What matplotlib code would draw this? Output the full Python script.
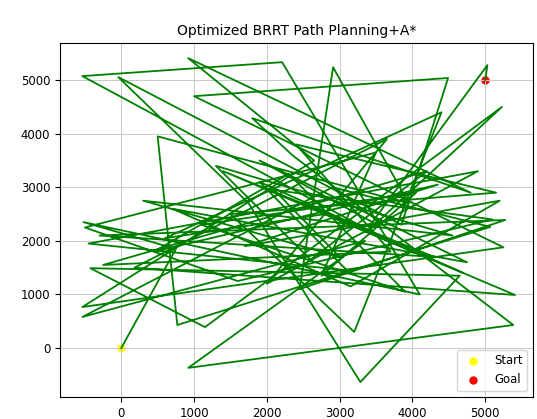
import matplotlib
matplotlib.use("Agg")
import matplotlib.pyplot as plt

# Path waypoints (x, y)
path_x = [0, 750, -520, 4100, 2210, -535, 3400, 5230, 1150, -425, 4650, 3285, 1750, -40,
          3850, 4490, 1000, 5250, -535, 2650, 920, 4800, 1800, 2350, 5385, 920, 3350, -535,
          2900, 5070, 770, 500, 3950, 2910, 2450, 5275, -300, 4300, 1400, 5410, 180, 3650,
          2000, 4900, -450, 3100, 1900, 4700, 2800, 600, 4400, 3200, 1500, 5150, 2400, 3700,
          -250, 4200, 2600, 1300, 4550, 300, 3000, 2100, 5100, 1600, -500, 3500, 2750, 4050,
          1100, 3900, 2300, 450, 4350, 2950, 1700, 5200, 3150, 700, 2500, 4750, 1900, 3450,
          5030, 5000]
path_y = [0, 1850, 2350, 1000, 5335, 5075, 2200, 4500, 390, 1490, 1350, -635, 2700, 5055,
          2300, 5040, 4700, 1880, 765, 3500, 5410, 2900, 4290, 3600, 430, -370, 2000, 580,
          3000, 2260, 430, 3950, 2700, 5240, 1100, 2390, 2100, 1700, 3300, 990, 1500, 3900,
          1200, 3300, 1950, 1450, 3100, 1400, 2500, 2050, 4400, 300, 2500, 2900, 3800, 1800,
          1550, 3300, 1650, 3400, 2100, 2750, 1700, 2950, 2400, 1250, 2250, 3650, 1350, 2900,
          2300, 1050, 3250, 1800, 3050, 2450, 1900, 2750, 1150, 2600, 2150, 1600, 3500, 2350,
          5280, 5000]

start = (0, 0)
goal = (5000, 5000)

fig = plt.figure(figsize=(5.37, 4.19), dpi=100)
ax = fig.add_axes([0.112, 0.053, 0.881, 0.844])

ax.plot(path_x, path_y, color="green", linewidth=1.3)
ax.scatter(start[0], start[1], color="yellow", s=25, label="Start")
ax.scatter(goal[0], goal[1], color="red", s=25, label="Goal")

ax.set_xlim(-840, 5660)
ax.set_ylim(-910, 5690)
ax.grid(True, color="#c8c8c8", linewidth=0.7)
ax.tick_params(labelsize=8.4)
ax.set_title("Optimized BRRT Path Planning+A*", fontsize=10)
ax.legend(loc="lower right", fontsize=8.4)

fig.savefig("out.png", dpi=100)
